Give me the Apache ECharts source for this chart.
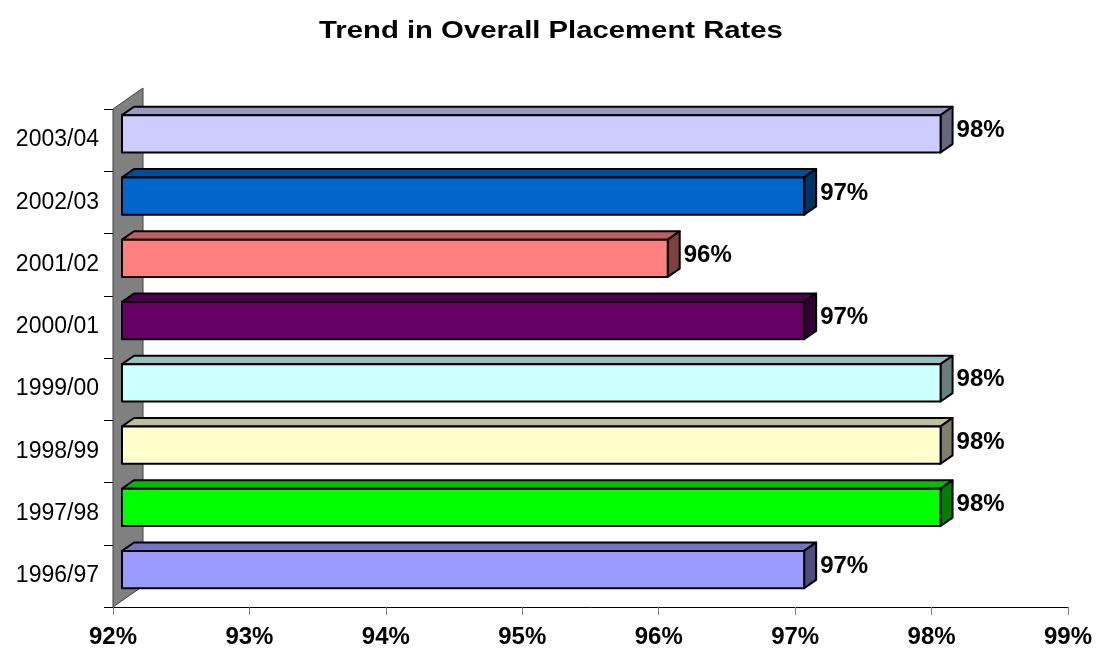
<!DOCTYPE html>
<html>
<head>
<meta charset="utf-8">
<script src="https://cdn.jsdelivr.net/npm/echarts@6/dist/echarts.min.js"></script>
<style>
html,body{margin:0;padding:0;background:#fff;}
#chart{width:1097px;height:650px;}
</style>
</head>
<body>
<div id="chart"></div>
<script>
// ---- data (bottom to top) ----
const categories = ['1996/97','1997/98','1998/99','1999/00','2000/01','2001/02','2002/03','2003/04'];
const rates = [97, 98, 98, 98, 97, 96, 97, 98];
const frontColors = ['#9999FF','#00FF00','#FFFFCC','#CCFFFF','#660066','#FF8080','#0066CC','#CCCCFF'];
const topColors   = ['#7373BF','#00BF00','#BFBF99','#99BFBF','#4D004D','#BF6060','#004D99','#9999BF'];
const sideColors  = ['#4D4D80','#008000','#808066','#668080','#330033','#804040','#003366','#666680'];
const titleText = 'Trend in Overall Placement Rates';
const xMin = 92, xMax = 99, xStep = 1;

const FONT = '"Liberation Sans", Arial, Helvetica, sans-serif';
const WALL_DX = 30, WALL_DY = -21;

const chart = echarts.init(document.getElementById('chart'));

function renderWall(params, api) {
  const cs = params.coordSys;
  const x = cs.x, y0 = cs.y, y1 = cs.y + cs.height;
  return {
    type: 'polygon',
    shape: { points: [[x, y0], [x + WALL_DX, y0 + WALL_DY], [x + WALL_DX, y1 + WALL_DY], [x, y1]] },
    style: { fill: '#808080', stroke: '#404040', lineWidth: 1 },
    z2: 0
  };
}

function renderBar(params, api) {
  const val = api.value(0);
  const idx = api.value(1);
  const i = params.dataIndex;
  const start = api.coord([xMin, idx]);
  const end = api.coord([val, idx]);
  const band = api.size([0, 1])[1];
  const h = band * 0.6;
  const fdx = WALL_DX * 0.3, fdy = WALL_DY * 0.3;
  const bdx = WALL_DX * 0.4, bdy = WALL_DY * 0.4;
  const fx0 = start[0] + fdx, fx1 = end[0] + fdx;
  const fyc = start[1] + fdy;
  const fy0 = fyc - h / 2, fy1 = fyc + h / 2;
  const stroke = { stroke: '#000', lineWidth: 2, lineJoin: 'round' };
  return {
    type: 'group',
    children: [
      { type: 'polygon', shape: { points: [[fx0, fy0], [fx0 + bdx, fy0 + bdy], [fx1 + bdx, fy0 + bdy], [fx1, fy0]] },
        style: Object.assign({ fill: topColors[i] }, stroke) },
      { type: 'polygon', shape: { points: [[fx1, fy0], [fx1 + bdx, fy0 + bdy], [fx1 + bdx, fy1 + bdy], [fx1, fy1]] },
        style: Object.assign({ fill: sideColors[i] }, stroke) },
      { type: 'rect', shape: { x: fx0, y: fy0, width: fx1 - fx0, height: fy1 - fy0 },
        style: Object.assign({ fill: frontColors[i] }, stroke) },
      { type: 'text', x: fx1 + bdx + 4, y: fyc + bdy / 2 + 1,
        style: { text: Math.round(val) + '%', x: 0, y: 0, fill: '#000',
                 fontSize: 24, fontWeight: 'bold', fontFamily: FONT,
                 align: 'left', verticalAlign: 'middle' } }
    ]
  };
}

chart.setOption({
  animation: false,
  backgroundColor: '#fff',
  graphic: [{
    type: 'text', x: 551, y: 31, scaleX: 1.22,
    style: { text: titleText, x: 0, y: 0, fill: '#000', fontSize: 24, fontWeight: 'bold', fontFamily: FONT,
             align: 'center', verticalAlign: 'middle' }
  }],
  grid: { left: 113, right: 29, top: 109, bottom: 43, containLabel: false },
  xAxis: {
    type: 'value', min: xMin, max: xMax, interval: xStep,
    axisLine: { show: true, lineStyle: { color: '#000', width: 1 } },
    axisTick: { show: true, length: 8, lineStyle: { color: '#808080', width: 1 } },
    splitLine: { show: false },
    axisLabel: { formatter: '{value}%', color: '#000', fontSize: 24, fontWeight: 'bold', fontFamily: FONT, margin: 18 }
  },
  yAxis: {
    type: 'category', data: categories,
    axisLine: { show: false },
    axisTick: { show: true, length: 9, lineStyle: { color: '#000', width: 1 } },
    axisLabel: { color: '#000', fontSize: 23, fontFamily: FONT, margin: 14 },
    splitLine: { show: false }
  },
  series: [
    { type: 'custom', name: 'wall', renderItem: renderWall, data: [[xMin, 0]], encode: { x: 0, y: 1 }, z: 1, clip: false, silent: true },
    { type: 'custom', name: 'Placement rate', renderItem: renderBar,
      data: rates.map((v, k) => [v, k]), encode: { x: 0, y: 1 }, z: 2, clip: false }
  ]
});
</script>
</body>
</html>
